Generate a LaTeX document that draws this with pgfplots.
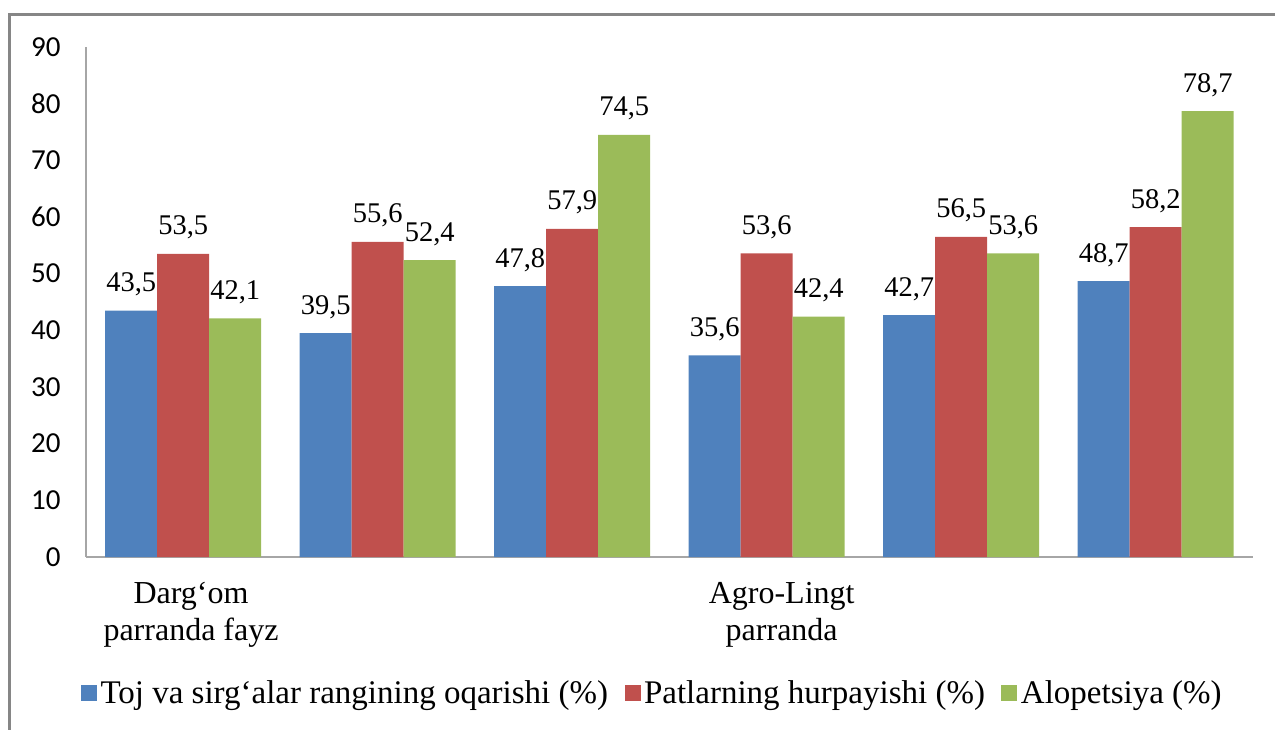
\documentclass[border=0pt]{standalone}
\usepackage{fontspec}
\setmainfont{Liberation Serif}
\newfontfamily\calibri{Carlito}
\usepackage{pgfplots}
\pgfplotsset{compat=1.18}
\definecolor{cBlue}{HTML}{4F81BD}
\definecolor{cRed}{HTML}{C0504D}
\definecolor{cGreen}{HTML}{9BBB59}
\definecolor{axgray}{HTML}{A6A6A6}
\definecolor{frgray}{HTML}{868686}
\begin{document}
\begin{tikzpicture}
\useasboundingbox (0pt,0pt) rectangle (1275pt,729pt);
\draw[frgray, line width=3pt] (9pt,-20pt) -- (9pt,714pt) -- (1290pt,714pt);
\begin{axis}[
  at={(86pt,172pt)}, anchor=south west,
  scale only axis, width=1167pt, height=510pt,
  ybar=0pt, bar width=52pt,
  xmin=-0.5, xmax=5.5, ymin=0, ymax=90,
  ytick={0,10,...,90},
  xtick={0.04,3.077},
  xticklabels={{Darg‘om\\parranda fayz},{Agro-Lingt\\parranda}},
  major tick length=0pt,
  axis x line*=bottom, axis y line*=left,
  axis line style={axgray, line width=1.2pt},
  x axis line style={-}, y axis line style={-},
  tick style={draw=none},
  yticklabel style={font=\calibri\fontsize{29}{34}\selectfont, xshift=-22pt},
  xticklabel style={font=\fontsize{32}{37}\selectfont, align=center, yshift=-22pt},
  /pgf/number format/assume math mode=true,
  nodes near coords,
  nodes near coords style={font=\fontsize{28.5}{33}\selectfont, anchor=base, inner sep=0pt, yshift=19pt,
    /pgf/number format/.cd, use comma, fixed, fixed zerofill, precision=1, assume math mode=true},
  legend columns=3,
  legend style={at={(0.486,-0.267)}, anchor=center, draw=none, fill=none,
    font=\fontsize{33}{38}\selectfont, inner sep=0pt,
    /tikz/every even column/.append style={column sep=13pt},
    nodes={inner sep=3.5pt}},
  legend image code/.code={\fill[#1] (0pt,-8pt) rectangle (16pt,8pt);},
]
\addplot[fill=cBlue, draw=none] coordinates {(0,43.5) (1,39.5) (2,47.8) (3,35.6) (4,42.7) (5,48.7)};
\addplot[fill=cRed, draw=none] coordinates {(0,53.5) (1,55.6) (2,57.9) (3,53.6) (4,56.5) (5,58.2)};
\addplot[fill=cGreen, draw=none] coordinates {(0,42.1) (1,52.4) (2,74.5) (3,42.4) (4,53.6) (5,78.7)};
\legend{Toj va sirg‘alar rangining oqarishi (\%), Patlarning hurpayishi (\%), Alopetsiya (\%)}
\end{axis}
\end{tikzpicture}
\end{document}
